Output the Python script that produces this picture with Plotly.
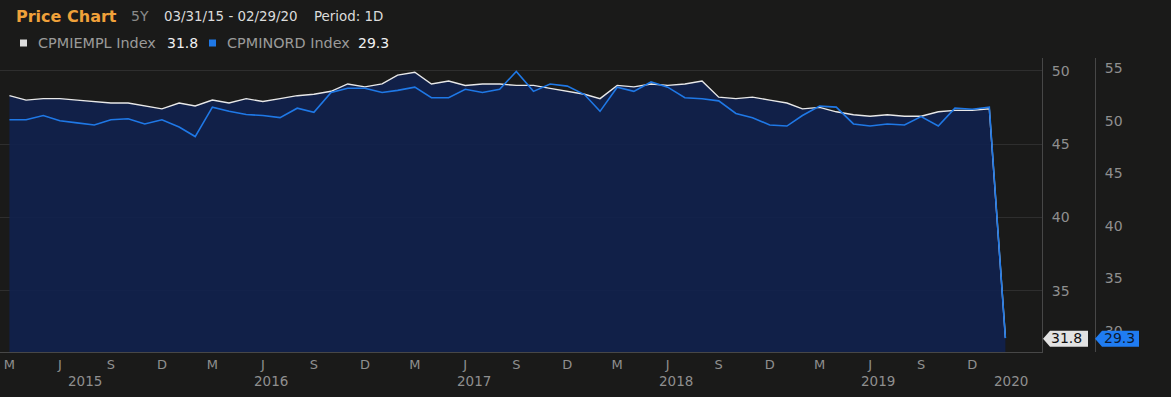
import pandas as pd
import plotly.graph_objects as go

# ---- data (monthly) ----
dates = pd.date_range("2015-03-31", "2020-02-29", freq="ME")

cpmiempl = [48.3, 48.0, 48.1, 48.1, 48.0, 47.9, 47.8, 47.8, 47.6, 47.4,
            47.8, 47.6, 48.0, 47.8, 48.1, 47.9, 48.1, 48.3, 48.4, 48.6, 49.1, 48.9,
            49.1, 49.7, 49.9, 49.1, 49.3, 49.0, 49.1, 49.1, 49.0, 49.0, 48.8, 48.6,
            48.4, 48.1, 49.0, 48.9, 49.1, 49.0, 49.1, 49.3, 48.2, 48.1, 48.2, 48.0,
            47.8, 47.4, 47.5, 47.2, 47.0, 46.9, 47.0, 46.9, 46.9, 47.2, 47.3, 47.3,
            47.4, 31.8]

cpminord = [50.1, 50.1, 50.5, 50.0, 49.8, 49.6, 50.1, 50.2, 49.7, 50.1,
            49.4, 48.5, 51.3, 50.9, 50.6, 50.5, 50.3, 51.2, 50.8, 52.7, 53.1, 53.1,
            52.7, 52.9, 53.2, 52.2, 52.2, 53.0, 52.7, 53.0, 54.7, 52.8, 53.5, 53.3,
            52.5, 50.9, 53.2, 52.8, 53.7, 53.2, 52.2, 52.1, 51.9, 50.7, 50.3, 49.6,
            49.5, 50.5, 51.4, 51.3, 49.7, 49.5, 49.7, 49.6, 50.4, 49.5, 51.2, 51.1,
            51.3, 29.3]

tick_dates = pd.date_range("2015-03-31", "2019-12-31", freq="3ME")
tick_text = [{3: "M", 6: "J", 9: "S", 12: "D"}[d.month] for d in tick_dates]

year_labels = ["2015", "2016", "2017", "2018", "2019", "2020"]
year_pos = ["2015-08-15", "2016-07-15", "2017-07-15", "2018-07-15", "2019-07-15", "2020-03-10"]

name1, name2 = "CPMIEMPL Index", "CPMINORD Index"

BG = "#1a1a19"
GRID = "#2e2e2e"
AXIS = "#474747"
TICK = "#8f8f8f"
WHITE = "#e8e8e8"
BLUE = "#1f78e6"
FONT = "'DejaVu Sans', sans-serif"

fig = go.Figure()
fig.add_trace(go.Scatter(
    x=dates, y=cpmiempl, name=name1, mode="lines",
    line=dict(color=WHITE, width=1.4),
    fill="tozeroy", fillcolor="rgba(16,33,78,0.88)",
    yaxis="y", hoverinfo="skip"))
fig.add_trace(go.Scatter(
    x=dates, y=cpminord, name=name2, mode="lines",
    line=dict(color=BLUE, width=1.6),
    yaxis="y2", hoverinfo="skip"))

W, H = 1171, 397
top, bot = 58, 352
def px(xpx):
    return xpx / W
def py(ypx):
    return (bot - ypx) / (bot - top)

ann = []
def label(x, y, text, size, color, bold=False, anchor="left"):
    ann.append(dict(x=px(x), y=py(y), xref="paper", yref="paper", xanchor=anchor, yanchor="middle",
                    text=f"<b>{text}</b>" if bold else text, showarrow=False,
                    font=dict(family=FONT, size=size, color=color)))

# header
label(14, 16, "Price Chart", 16, "#f0a13a", bold=True)
label(129, 16, "5Y", 14, "#8a8a8a")
label(162, 16, "03/31/15 - 02/29/20", 13.4, "#dcdcdc")
label(312, 16, "Period: 1D", 13.4, "#dcdcdc")
# legend row
label(36, 43, name1, 14.4, "#9a9a9a")
label(165, 43, str(cpmiempl[-1]), 14, "#f0f0f0")
label(225, 43, name2, 14.4, "#9a9a9a")
label(356, 43, str(cpminord[-1]), 14, "#f0f0f0")

# year labels
for yl, yp in zip(year_labels, year_pos):
    ann.append(dict(x=yp, y=py(381), xref="x", yref="paper", xanchor="center", yanchor="middle",
                    text=yl, showarrow=False, font=dict(family=FONT, size=13.5, color=TICK)))

# last-value tags (text)
ann.append(dict(x=px(1066), y=cpmiempl[-1], xref="paper", yref="y", xanchor="center", yanchor="middle",
                text=str(cpmiempl[-1]), showarrow=False,
                font=dict(family=FONT, size=14, color="#111111")))
ann.append(dict(x=px(1119), y=cpminord[-1], xref="paper", yref="y2", xanchor="center", yanchor="middle",
                text=str(cpminord[-1]), showarrow=False,
                font=dict(family=FONT, size=14, color="#0d1a33")))

def tag_path(tip, left, right, yc, h=16):
    t, b = py(yc - h / 2), py(yc + h / 2)
    m = py(yc)
    return (f"M {px(tip)} {m} L {px(left)} {t} L {px(right)} {t} "
            f"L {px(right)} {b} L {px(left)} {b} Z")

shapes = [
    # legend markers
    dict(type="rect", xref="paper", yref="paper", x0=px(20), x1=px(27), y0=py(46.5), y1=py(39.5),
         fillcolor="#dddddd", line=dict(width=0)),
    dict(type="rect", xref="paper", yref="paper", x0=px(209), x1=px(216), y0=py(46.5), y1=py(39.5),
         fillcolor=BLUE, line=dict(width=0)),
    # tags
    dict(type="path", xref="paper", yref="paper", path=tag_path(1043, 1050, 1088, 338.7),
         fillcolor="#e2e2e2", line=dict(width=0), layer="above"),
    dict(type="path", xref="paper", yref="paper", path=tag_path(1095, 1102, 1139, 338.7),
         fillcolor="#1f7cf2", line=dict(width=0), layer="above"),
]

fig.update_layout(
    width=W, height=H,
    margin=dict(l=0, r=0, t=top, b=H - bot, pad=0),
    paper_bgcolor=BG, plot_bgcolor=BG,
    showlegend=False,
    font=dict(family=FONT, color=TICK),
    annotations=ann, shapes=shapes,
    xaxis=dict(domain=[0, 1042 / W], range=["2015-03-14", "2020-05-05"], automargin=False,
               tickvals=tick_dates, ticktext=tick_text, tickangle=0,
               showgrid=False, showline=True, linecolor=AXIS, linewidth=1,
               ticks="", zeroline=False, tickfont=dict(size=13, color=TICK)),
    yaxis=dict(side="right", anchor="x", range=[30.82, 50.87], dtick=5, tick0=0, automargin=False,
               showgrid=True, gridcolor=GRID, showline=True, linecolor=AXIS, zeroline=False,
               ticks="", tickfont=dict(size=14, color=TICK), ticklabelstandoff=6),
    yaxis2=dict(side="right", anchor="free", position=1095 / W, overlaying="y", automargin=False,
                range=[27.98, 55.98], dtick=5, tick0=0,
                showgrid=False, showline=True, linecolor=AXIS, zeroline=False,
                ticks="", tickfont=dict(size=14, color=TICK), ticklabelstandoff=6),
)

fig.write_html(
    "out.html",
    config={"displayModeBar": False},
    post_script="document.body.style.margin='0';document.body.style.overflow='hidden';"
                "document.body.style.background='#1a1a19';",
)
